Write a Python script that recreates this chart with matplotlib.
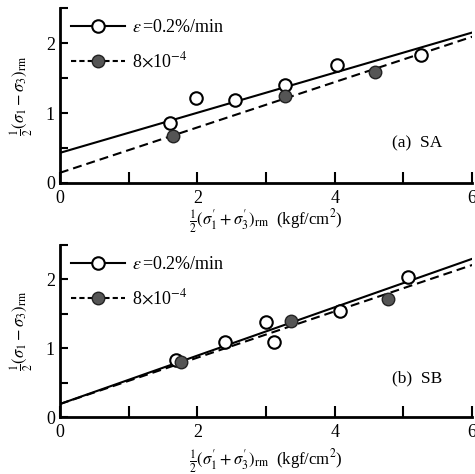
import matplotlib
matplotlib.use("Agg")
import matplotlib.pyplot as plt
from matplotlib.ticker import MultipleLocator

plt.rcParams["font.family"] = ["Liberation Serif", "DejaVu Serif"]
plt.rcParams["mathtext.fontset"] = "stix"

# panel (a) SA
sa_open_x = [1.60, 1.98, 2.55, 3.28, 4.04, 5.25]
sa_open_y = [0.85, 1.21, 1.19, 1.40, 1.69, 1.83]
sa_fill_x = [1.64, 3.28, 4.59]
sa_fill_y = [0.67, 1.25, 1.59]
sa_fit_open = [0.43, 2.15]
sa_fit_fill = [0.145, 2.09]

# panel (b) SB
sb_open_x = [1.69, 2.41, 3.00, 3.11, 4.07, 5.07]
sb_open_y = [0.83, 1.09, 1.38, 1.09, 1.54, 2.04]
sb_fill_x = [1.77, 3.37, 4.77]
sb_fill_y = [0.80, 1.40, 1.72]
sb_fit_open = [0.19, 2.30]
sb_fit_fill = [0.19, 2.21]

fit_x = [0, 6]

labels = [r"$\varepsilon\,$=0.2%/min", r"8$\times$10$^{-4}$"]
panel_names = ["(a)  SA", "(b)  SB"]

fig = plt.figure(figsize=(4.75, 4.74), dpi=100)
ax_a = fig.add_axes([0.126, 0.614, 0.868, 0.369])
ax_b = fig.add_axes([0.126, 0.120, 0.868, 0.363])

panels = [
    (ax_a, sa_open_x, sa_open_y, sa_fill_x, sa_fill_y, sa_fit_open, sa_fit_fill, panel_names[0], -0.14),
    (ax_b, sb_open_x, sb_open_y, sb_fill_x, sb_fill_y, sb_fit_open, sb_fit_fill, panel_names[1], -0.175),
]

for ax, ox, oy, fx, fy, fit_o, fit_f, name, xlab_y in panels:
    ax.plot(fit_x, fit_o, color="black", lw=1.5)
    ax.plot(fit_x, fit_f, color="black", lw=1.5, dashes=(4.3, 2.4))
    ax.plot(ox, oy, "o", ms=9, mfc="white", mec="black", mew=1.5)
    ax.plot(fx, fy, "o", ms=9, mfc="#555555", mec="#222222", mew=1.0)

    # legend proxies
    h1, = ax.plot([], [], color="black", lw=1.5, marker="o", ms=9,
                  mfc="white", mec="black", mew=1.5)
    h2, = ax.plot([], [], color="black", lw=1.5, dashes=(2.5, 1.5), marker="o",
                  ms=9, mfc="#555555", mec="#222222", mew=1.0)
    ax.legend([h1, h2], labels, loc="upper left", frameon=False, fontsize=13,
              handlelength=3.0, labelspacing=0.85, handletextpad=0.4,
              borderaxespad=0.2, bbox_to_anchor=(0.0, 1.0))

    ax.text(5.56, 0.56, name, ha="right", va="center", fontsize=12.5)

    ax.set_xlim(0, 6)
    ax.set_ylim(0, 2.5)
    ax.xaxis.set_major_locator(MultipleLocator(2))
    ax.xaxis.set_minor_locator(MultipleLocator(1))
    ax.yaxis.set_major_locator(MultipleLocator(1))
    ax.yaxis.set_minor_locator(MultipleLocator(0.5))
    ax.tick_params(which="both", direction="in", width=1.5, labelsize=13)
    ax.tick_params(axis="x", which="both", length=8, pad=5)
    ax.tick_params(axis="y", which="both", length=6)
    for s in ["top", "right"]:
        ax.spines[s].set_visible(False)
    for s in ["left", "bottom"]:
        ax.spines[s].set_linewidth(2)

    ax.set_xlabel(r"$\frac{1}{2}(\sigma^{\prime}_{1}+\sigma^{\prime}_{3})_{\rm rm}$  (kgf/cm$^{2}$)",
                  fontsize=12)
    ax.xaxis.set_label_coords(0.5, xlab_y)
    ax.set_ylabel(r"$\frac{1}{2}(\sigma_{1}-\sigma_{3})_{\rm rm}$", fontsize=12, labelpad=8)

fig.savefig("out.png", dpi=100)
